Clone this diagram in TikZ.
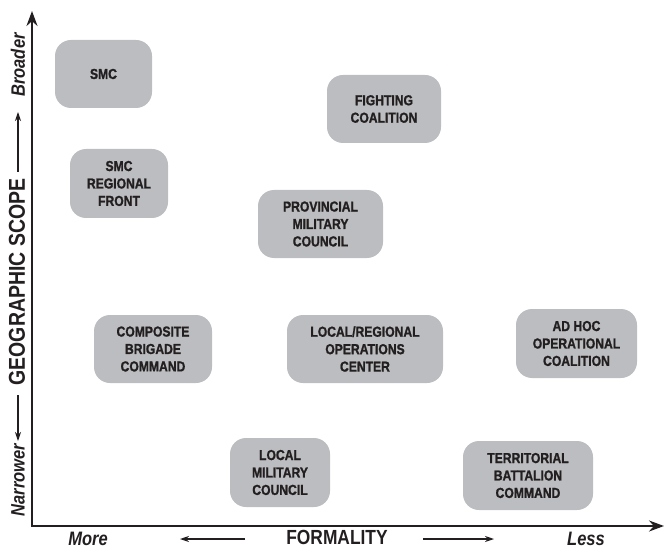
\documentclass[tikz,border=0pt]{standalone}
\usepackage{fontspec}
\setmainfont{Liberation Sans}[
  UprightFont={* Bold},
  BoldFont={* Bold},
  ItalicFont={* Bold Italic},
  BoldItalicFont={* Bold Italic},
  FakeStretch=0.85]
\newfontfamily\boxfont{Liberation Sans Bold}[FakeStretch=0.84, FakeBold=1.2]
\usetikzlibrary{arrows.meta}
\definecolor{boxgray}{RGB}{188,189,192}
\definecolor{ink}{RGB}{35,31,32}
\tikzset{
  box/.style={fill=boxgray, rounded corners=16bp, align=center, inner sep=0pt,
    text=ink, font=\fontsize{14.5}{17.5}\boxfont},
  axis/.style={line width=2bp, draw=ink, -{Stealth[length=15bp,width=11bp]}},
  thin/.style={line width=1.1bp, draw=ink, -{Stealth[length=9bp,width=6bp]}},
  ilabel/.style={text=ink, font=\fontsize{19.5}{22}\selectfont\bfseries\itshape, inner sep=0pt},
  blabel/.style={text=ink, font=\fontsize{20.5}{23}\selectfont\bfseries, inner sep=0pt},
}
\begin{document}
\begin{tikzpicture}[x=1bp,y=-1bp]
\useasboundingbox (0,0) rectangle (664,548);
% boxes
\node[box, minimum width=97bp, minimum height=68bp] (smc) at (103.5,74) {SMC};
\node[box, minimum width=98bp, minimum height=69bp] (smcrf) at (119,183.5) {SMC\\REGIONAL\\FRONT};
\node[box, minimum width=114bp, minimum height=68bp] (fight) at (384,109) {FIGHTING\\COALITION};
\node[box, minimum width=125bp, minimum height=68bp] (prov) at (320.5,224) {PROVINCIAL\\MILITARY\\COUNCIL};
\node[box, minimum width=118bp, minimum height=68bp] (comp) at (153,349) {COMPOSITE\\BRIGADE\\COMMAND};
\node[box, minimum width=156bp, minimum height=68bp] (lroc) at (365,349) {LOCAL/REGIONAL\\OPERATIONS\\CENTER};
\node[box, minimum width=121bp, minimum height=69bp] (adhoc) at (576.5,343.5) {AD HOC\\OPERATIONAL\\COALITION};
\node[box, minimum width=100bp, minimum height=69bp] (lmc) at (280,472.5) {LOCAL\\MILITARY\\COUNCIL};
\node[box, minimum width=130bp, minimum height=69bp] (tbc) at (528,475.5) {TERRITORIAL\\BATTALION\\COMMAND};
% axes
\coordinate (origin) at (32,526);
\coordinate (ytop) at (32,11);
\coordinate (xend) at (664,526);
\draw[axis] (origin) -- (ytop);
\draw[axis] ([xshift=-1bp]origin) -- (xend);
% vertical labels
\node[ilabel, rotate=90] (broad) at (18,65) {Broader};
\node[blabel, rotate=90, font=\fontsize{23}{26}\selectfont\bfseries] (geo) at (17,282) {GEOGRAPHIC SCOPE};
\node[ilabel, rotate=90] (narrow) at (18,480) {Narrower};
\coordinate (u1) at (18,172);
\coordinate (u2) at (18,112);
\coordinate (d1) at (18,395);
\coordinate (d2) at (18,441);
\draw[thin] (u1) -- (u2);
\draw[thin] (d1) -- (d2);
% horizontal labels
\node[ilabel] (more) at (88,538.5) {More};
\node[blabel] (form) at (337,537.5) {FORMALITY};
\node[ilabel] (less) at (586,538.5) {Less};
\coordinate (l1) at (245,539);
\coordinate (l2) at (180,539);
\coordinate (r1) at (423,539);
\coordinate (r2) at (494,539);
\draw[thin] (l1) -- (l2);
\draw[thin] (r1) -- (r2);
\end{tikzpicture}
\end{document}
